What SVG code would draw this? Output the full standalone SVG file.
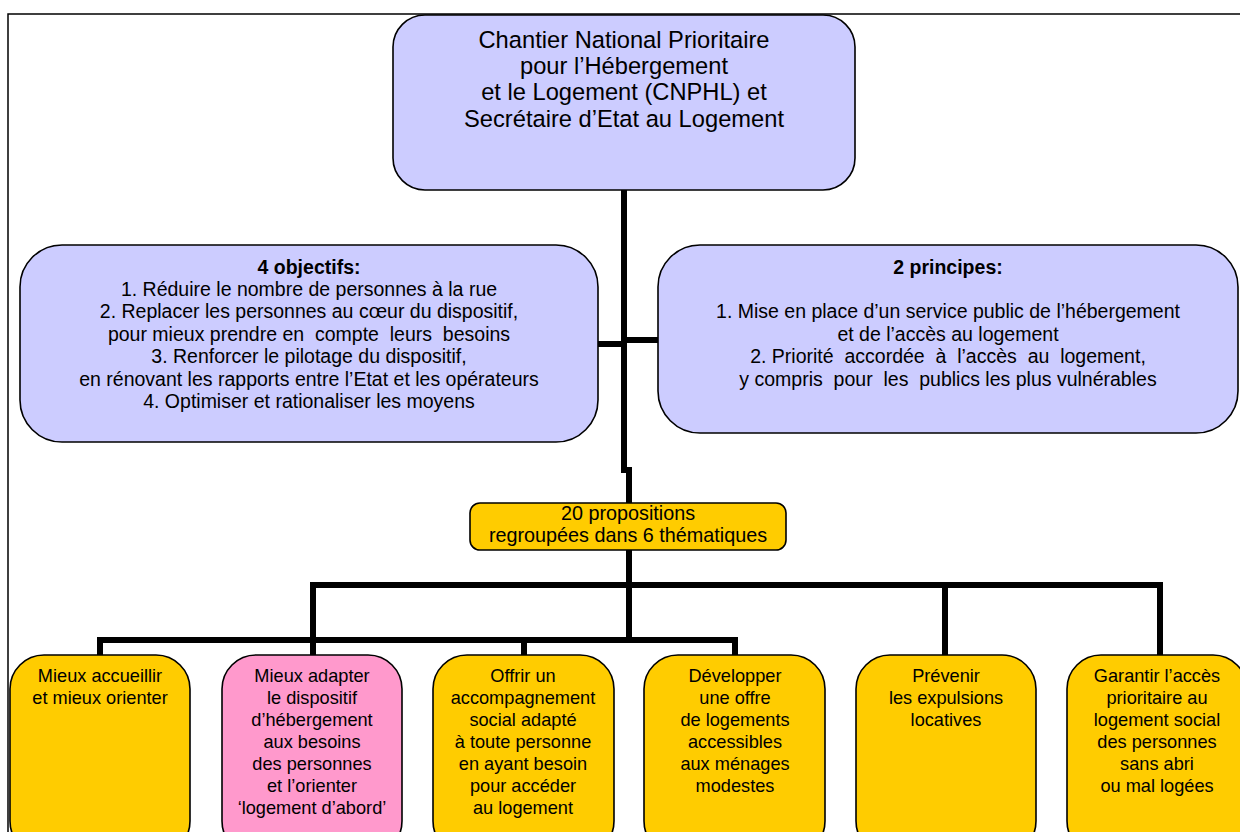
<svg xmlns="http://www.w3.org/2000/svg" width="1240" height="832" viewBox="0 0 1240 832">
<style>
text{font-family:"Liberation Sans",Arial,sans-serif;fill:#000;text-anchor:middle}
.box{stroke:#000;stroke-width:1.6}
.lav{fill:#ccccff}
.yel{fill:#ffcc00}
.pink{fill:#ff99cc}
.t1{font-size:23.7px}
.t2{font-size:19.5px}
.t4{font-size:19.8px}
.t3{font-size:18.2px}
.b{font-weight:bold}
.con{fill:none;stroke:#000;stroke-width:6;stroke-linejoin:miter;stroke-linecap:square}
</style>
<rect width="1240" height="832" fill="#fff"/>
<rect x="8" y="14" width="1250" height="840" fill="none" stroke="#000" stroke-width="1.5"/>
<g id="connectors">
<path class="con" d="M624,192 V470 H629 V503"/>
<path class="con" d="M600,344 H624"/>
<path class="con" d="M624,340 H656"/>
<path class="con" d="M629,552 V640"/>
<path class="con" d="M313,654 V585 H1160 V654"/>
<path class="con" d="M945,585 V654"/>
<path class="con" d="M100,654 V640 H735 V654"/>
<path class="con" d="M524,640 V654"/>
</g>
<g id="top">
<rect class="box lav" x="393" y="15" width="462" height="175" rx="32"/>
<text class="t1" x="624" y="48">Chantier National Prioritaire</text>
<text class="t1" x="624" y="74">pour l’Hébergement</text>
<text class="t1" x="624" y="100">et le Logement (CNPHL) et</text>
<text class="t1" x="624" y="127">Secrétaire d’Etat au Logement</text>
</g>
<g id="objectifs">
<rect class="box lav" x="20" y="245" width="578" height="197" rx="42"/>
<text class="t2 b" x="309" y="274">4 objectifs:</text>
<text class="t2" x="309" y="296">1. Réduire le nombre de personnes à la rue</text>
<text class="t2" x="309" y="318">2. Replacer les personnes au cœur du dispositif,</text>
<text class="t2" x="309" y="341" xml:space="preserve">pour mieux prendre en  compte  leurs  besoins</text>
<text class="t2" x="309" y="363">3. Renforcer le pilotage du dispositif,</text>
<text class="t2" x="309" y="386">en rénovant les rapports entre l’Etat et les opérateurs</text>
<text class="t2" x="309" y="408">4. Optimiser et rationaliser les moyens</text>
</g>
<g id="principes">
<rect class="box lav" x="658" y="245" width="580" height="188" rx="42"/>
<text class="t2 b" x="948" y="274">2 principes:</text>
<text class="t2" x="948" y="318">1. Mise en place d’un service public de l’hébergement</text>
<text class="t2" x="948" y="341">et de l’accès au logement</text>
<text class="t2" x="948" y="363" xml:space="preserve">2. Priorité  accordée  à  l’accès  au  logement,</text>
<text class="t2" x="948" y="386" xml:space="preserve">y compris  pour  les  publics les plus vulnérables</text>
</g>
<g id="propositions">
<rect class="box yel" x="470" y="503" width="316" height="47" rx="10"/>
<text class="t4" x="628" y="520">20 propositions</text>
<text class="t4" x="628" y="542">regroupées dans 6 thématiques</text>
</g>
<g id="n1">
<rect class="box yel" x="10" y="655" width="180" height="200" rx="34"/>
<text class="t3" x="100" y="682">Mieux accueillir</text>
<text class="t3" x="100" y="704">et mieux orienter</text>
</g>
<g id="n2">
<rect class="box pink" x="222" y="655" width="180" height="200" rx="34"/>
<text class="t3" x="312" y="682">Mieux adapter</text>
<text class="t3" x="312" y="704">le dispositif</text>
<text class="t3" x="312" y="726">d’hébergement</text>
<text class="t3" x="312" y="748">aux besoins</text>
<text class="t3" x="312" y="770">des personnes</text>
<text class="t3" x="312" y="792">et l’orienter</text>
<text class="t3" x="312" y="814">‘logement d’abord’</text>
</g>
<g id="n3">
<rect class="box yel" x="433" y="655" width="181" height="200" rx="34"/>
<text class="t3" x="523" y="682">Offrir un</text>
<text class="t3" x="523" y="704">accompagnement</text>
<text class="t3" x="523" y="726">social adapté</text>
<text class="t3" x="523" y="748">à toute personne</text>
<text class="t3" x="523" y="770">en ayant besoin</text>
<text class="t3" x="523" y="792">pour accéder</text>
<text class="t3" x="523" y="814">au logement</text>
</g>
<g id="n4">
<rect class="box yel" x="644" y="655" width="181" height="200" rx="34"/>
<text class="t3" x="735" y="682">Développer</text>
<text class="t3" x="735" y="704">une offre</text>
<text class="t3" x="735" y="726">de logements</text>
<text class="t3" x="735" y="748">accessibles</text>
<text class="t3" x="735" y="770">aux ménages</text>
<text class="t3" x="735" y="792">modestes</text>
</g>
<g id="n5">
<rect class="box yel" x="856" y="655" width="180" height="200" rx="34"/>
<text class="t3" x="946" y="682">Prévenir</text>
<text class="t3" x="946" y="704">les expulsions</text>
<text class="t3" x="946" y="726">locatives</text>
</g>
<g id="n6">
<rect class="box yel" x="1067" y="655" width="180" height="200" rx="34"/>
<text class="t3" x="1157" y="682">Garantir l’accès</text>
<text class="t3" x="1157" y="704">prioritaire au</text>
<text class="t3" x="1157" y="726">logement social</text>
<text class="t3" x="1157" y="748">des personnes</text>
<text class="t3" x="1157" y="770">sans abri</text>
<text class="t3" x="1157" y="792">ou mal logées</text>
</g>
</svg>
